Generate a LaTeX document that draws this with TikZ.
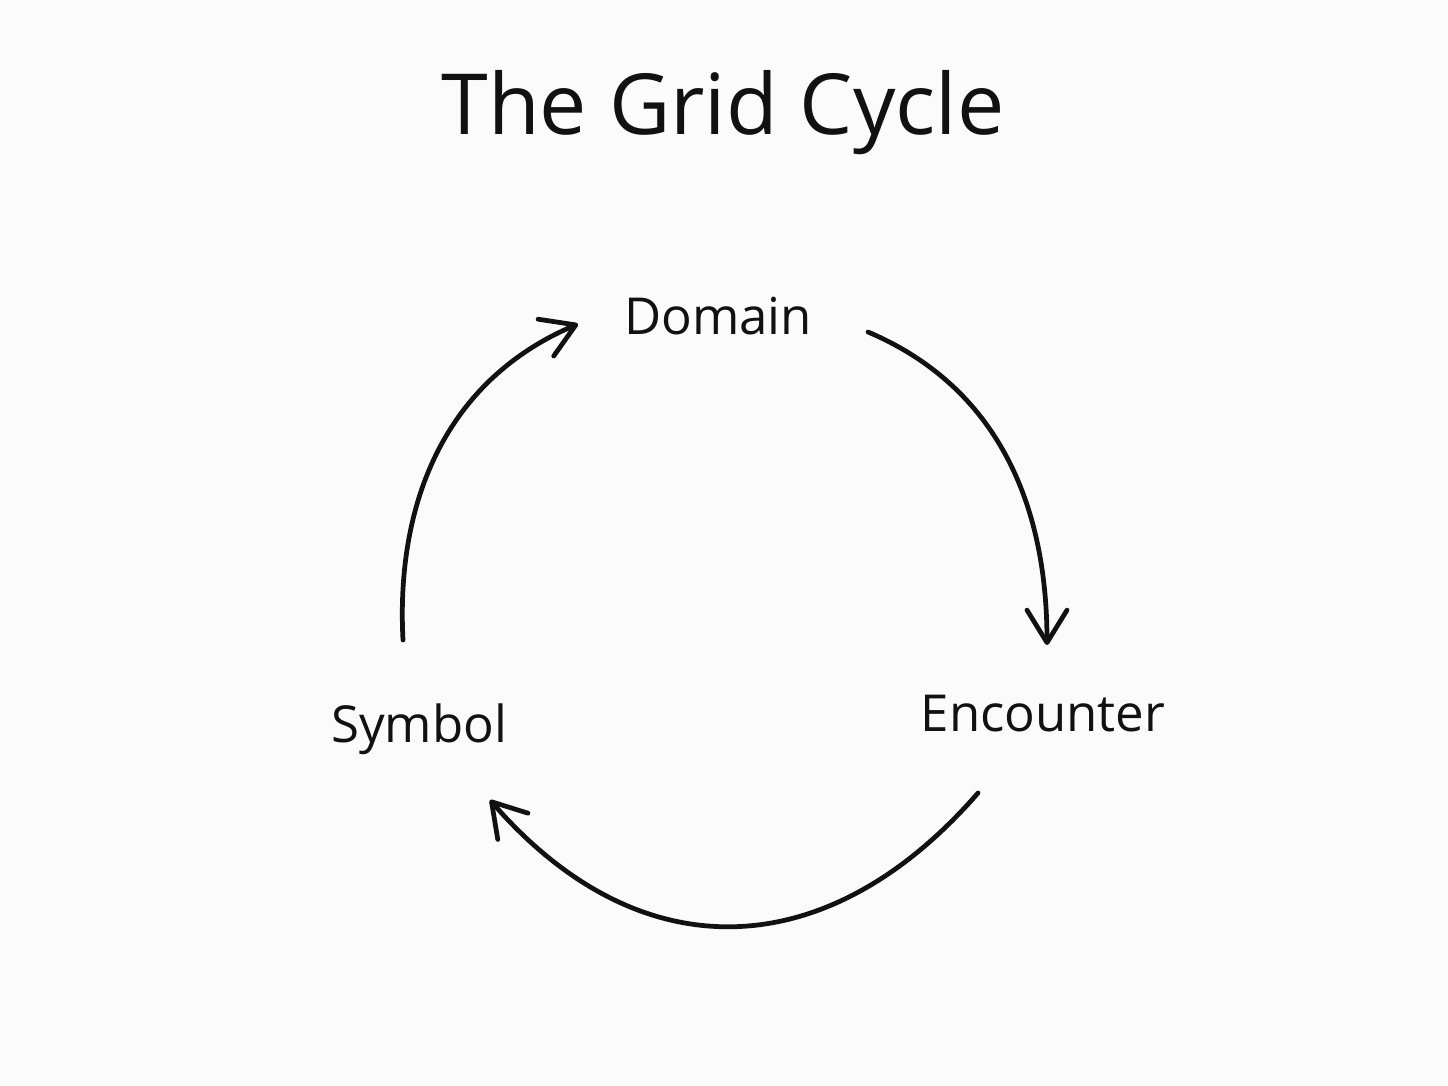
\documentclass[tikz,border=0pt]{standalone}
\usepackage{fontspec}
\setmainfont{Open Sans}
\usetikzlibrary{arrows.meta}
\definecolor{inkpage}{HTML}{FBFBFB}
\definecolor{inkline}{HTML}{111111}
\newcommand{\cyclelabel}[3]{%
  \node[anchor=base, text=inkline, inner sep=0pt,
        font=\fontsize{29}{34}\selectfont] (#1) at (#2) {#3};}

\begin{document}
\begin{tikzpicture}[x=0.02cm, y=0.02cm]
      \fill[inkpage] (0,0) rectangle (1448,1086);
      \useasboundingbox (0,0) rectangle (1448,1086);
      \node[anchor=base, text=inkline, inner sep=0pt,
            font=\fontsize{48}{56}\selectfont] (title) at (723,951) {The Grid Cycle};
      \cyclelabel{domain}{718,751}{Domain}
      \cyclelabel{encounter}{1043,354}{Encounter}
      \cyclelabel{symbol}{419,343}{Symbol}
      \coordinate (symbol-out) at (403,446);
      \coordinate (domain-in) at (578,762);
      \coordinate (domain-out) at (868,754);
      \coordinate (encounter-in) at (1047,441);
      \coordinate (encounter-out) at (978,293);
      \coordinate (symbol-in) at (490,286);
      \draw[-{Straight Barb[length=6.5mm, width=8mm, round]}, inkline, line width=2.7pt, line cap=round]
        (symbol-out) to[out=93, in=203] (domain-in);
      \draw[-{Straight Barb[length=6.5mm, width=8mm, round]}, inkline, line width=2.7pt, line cap=round]
        (domain-out) to[out=-23, in=90] (encounter-in);
      \draw[-{Straight Barb[length=6.5mm, width=8mm, round]}, inkline, line width=2.7pt, line cap=round]
        (encounter-out) to[out=229, in=311, looseness=1.2] (symbol-in);
    \end{tikzpicture}
\end{document}
